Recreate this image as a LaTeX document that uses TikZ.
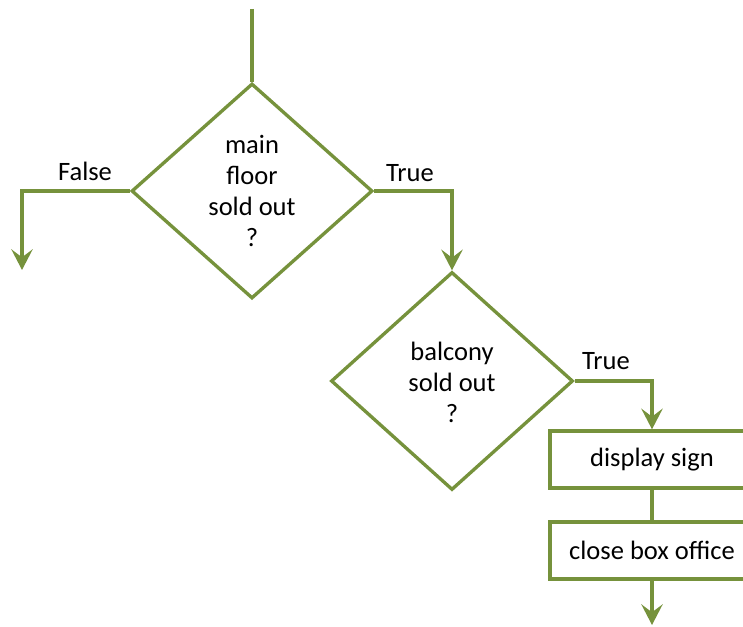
\documentclass[tikz,border=0pt]{standalone}
\usepackage{fontspec}
\setmainfont{Carlito}
\usetikzlibrary{shapes.geometric,arrows.meta}
\definecolor{olive}{RGB}{118,146,60}
\tikzset{
  flow/.style={draw=olive, line width=2.5pt},
  dia/.style={flow, shape=diamond, inner sep=0pt, fill=white},
  dialabel/.style={align=center, inner sep=0pt, font=\fontsize{19.9}{23.3}\selectfont},
  stepbox/.style={flow, rectangle, minimum width=153pt, minimum height=42.75pt, inner sep=0pt,
                  font=\fontsize{19.9}{23.3}\selectfont},
  branch/.style={flow, -{Stealth[length=15.5pt, width=16pt, inset=6pt]}},
  plain/.style={flow},
  edgelabel/.style={inner sep=0pt, font=\fontsize{19.9}{23.3}\selectfont}
}
\begin{document}
\begin{tikzpicture}[x=0.75pt, y=-0.75pt]
  \useasboundingbox (0,0) rectangle (743,627);
  \clip (0,0) rectangle (743,627);

  % decisions
  \node[dia, minimum width=180.75pt, minimum height=161.25pt] (floor) at (252,191) {};
  \node[dialabel] (floortext) at (252,191) {main\\floor\\sold out\\?};
  \node[dia, minimum width=181.5pt, minimum height=163.5pt] (balcony) at (452,381) {};
  \node[dialabel] (balconytext) at (452,382) {balcony\\sold out\\?};

  % actions
  \node[stepbox] (sign) at (652,459.5) {display sign};
  \node[stepbox] (close) at (652,550.5) {close box office};

  % loose ends
  \coordinate (entry) at (252,9);
  \coordinate (falseend) at (22,270);
  \coordinate (exit) at (652,625);

  % connectors
  \draw[plain] (entry) -- (floor.north);
  \draw[branch] (floor.west) -| (falseend);
  \draw[branch] (floor.east) -| (balcony.north);
  \draw[branch] (balcony.east) -| (sign.north);
  \draw[plain] (sign.south) -- (close.north);
  \draw[branch] (close.south) -- (exit);

  % branch labels
  \node[edgelabel] (falselbl) at (85,171) {False};
  \node[edgelabel] (truelbl1) at (410,173) {True};
  \node[edgelabel] (truelbl2) at (606,361) {True};
\end{tikzpicture}
\end{document}
